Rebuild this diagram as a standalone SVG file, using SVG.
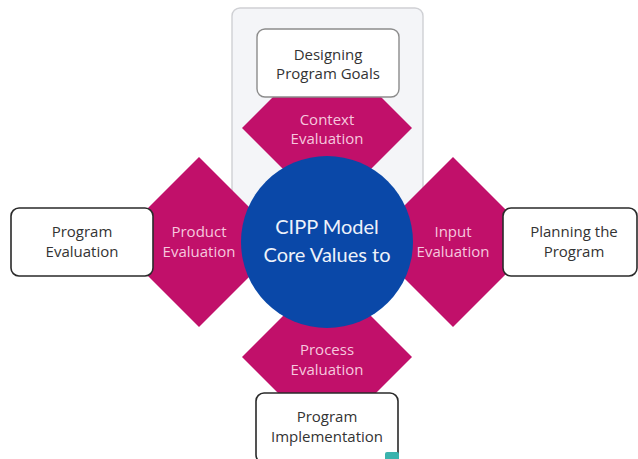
<svg xmlns="http://www.w3.org/2000/svg" width="638" height="459" viewBox="0 0 638 459">
<style>
.dia{fill:#c1106a}
.box{fill:#ffffff;stroke:#2a2a2a;stroke-width:1.6}
.boxl{fill:#ffffff;stroke:#8c8c8c;stroke-width:1.4}
.t{font-family:"Open Sans","Liberation Sans",sans-serif;font-size:15px;text-anchor:middle;fill:#333333}
.tp{font-family:"Open Sans","Liberation Sans",sans-serif;font-size:15px;text-anchor:middle;fill:#f6c8de}
.tc{font-family:"Lato","Liberation Sans",sans-serif;font-size:20px;text-anchor:middle;fill:#eef2fa}
</style>
<rect width="638" height="459" fill="#ffffff"/>
<g id="panel">
<rect x="232" y="8" width="191" height="240" rx="8" fill="#f4f5f8" stroke="#cfd0d4" stroke-width="1.4"/>
</g>
<g id="context">
<polygon class="dia" points="327,43 412,128 327,213 242,128"/>
</g>
<g id="product">
<polygon class="dia" points="199,157 284,242 199,327 114,242"/>
</g>
<g id="input">
<polygon class="dia" points="453,157 538,242 453,327 368,242"/>
</g>
<g id="process">
<polygon class="dia" points="327,272 412,357 327,442 242,357"/>
</g>
<g id="core">
<circle cx="327" cy="242" r="86" fill="#0a48a8"/>
<text class="tc" x="327" y="234">CIPP Model</text>
<text class="tc" x="327" y="262">Core Values to</text>
</g>
<g id="goals">
<rect class="boxl" x="257" y="29" width="142" height="68" rx="8"/>
<text class="t" x="328" y="60">Designing</text>
<text class="t" x="328" y="79">Program Goals</text>
</g>
<g id="program-evaluation">
<rect class="box" x="11" y="208" width="142" height="68" rx="8"/>
<text class="t" x="82" y="237">Program</text>
<text class="t" x="82" y="257">Evaluation</text>
</g>
<g id="planning">
<rect class="box" x="503" y="208" width="134" height="68" rx="8"/>
<text class="t" x="574" y="237">Planning the</text>
<text class="t" x="574" y="257">Program</text>
</g>
<g id="implementation">
<rect class="box" x="256" y="393" width="142" height="70" rx="8"/>
<text class="t" x="327" y="422">Program</text>
<text class="t" x="327" y="442">Implementation</text>
<rect x="385" y="452" width="14" height="10" rx="2" fill="#3bb3ad"/>
</g>
<g id="labels">
<text class="tp" x="327" y="125">Context</text>
<text class="tp" x="327" y="144">Evaluation</text>
<text class="tp" x="199" y="237">Product</text>
<text class="tp" x="199" y="257">Evaluation</text>
<text class="tp" x="453" y="237">Input</text>
<text class="tp" x="453" y="257">Evaluation</text>
<text class="tp" x="327" y="355">Process</text>
<text class="tp" x="327" y="375">Evaluation</text>
</g>
<g id="connectors"/>
</svg>
